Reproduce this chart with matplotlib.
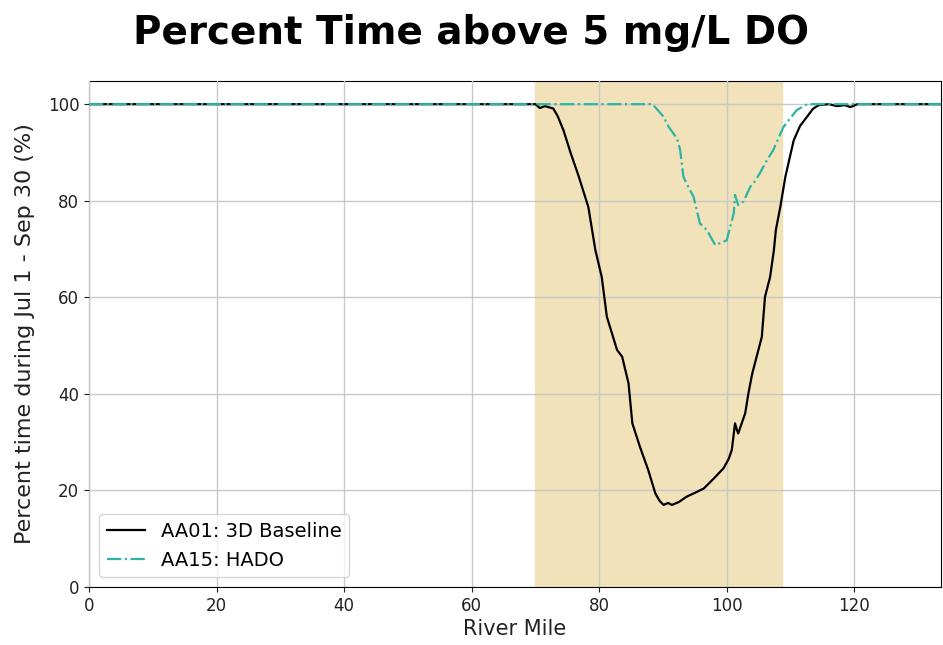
import matplotlib
matplotlib.use("Agg")
import matplotlib.pyplot as plt

# River mile stations and percent time above 5 mg/L DO (Jul 1 - Sep 30)
baseline_mile = [0, 70, 70.7, 71.5, 72.8, 73.5, 74.4, 75.5, 76.8, 78.3, 79.4,
                 80.4, 81.2, 82.8, 83.6, 84.6, 85.2, 86.4, 87.7, 88.8, 89.5,
                 90.1, 90.8, 91.4, 92.5, 93.7, 95.0, 96.4, 98.0, 99.5, 100.3,
                 100.8, 101.3, 101.6, 101.8, 102.9, 103.4, 104.0, 105.5, 106.0,
                 106.8, 107.4, 107.7, 108.4, 109.2, 110.5, 111.5, 112.6, 113.5,
                 114.4, 116.0, 117.3, 118.5, 119.4, 120.5, 133.6]
baseline_pct = [100, 100, 99.2, 99.6, 99.1, 97.5, 94.6, 90.0, 85.0, 78.7, 69.8,
                64.2, 56.0, 49.1, 47.7, 42.2, 33.9, 29.0, 24.2, 19.4, 17.8,
                17.0, 17.4, 17.0, 17.6, 18.7, 19.5, 20.4, 22.5, 24.6, 26.5,
                28.4, 33.9, 32.5, 31.8, 36.0, 40.1, 44.2, 51.8, 60.1,
                64.2, 69.8, 73.9, 78.7, 85.0, 92.5, 95.5, 97.4, 99.0,
                99.8, 100, 99.6, 99.8, 99.4, 100, 100]

hado_mile = [0, 88.0, 88.5, 90.1, 90.9, 92.2, 92.7, 93.2, 93.7, 94.8, 95.8,
             96.9, 98.2, 100.0, 101.1, 101.3, 101.8, 102.6, 103.7, 104.2,
             105.2, 106.3, 107.3, 108.9, 111.0, 112.6, 133.6]
hado_pct = [100, 100, 99.8, 97.4, 95.3, 92.9, 90.5, 85.0, 83.6, 80.8, 75.3,
            73.9, 70.8, 71.8, 77.4, 81.2, 79.1, 79.8, 82.9, 83.6,
            85.7, 88.4, 90.5, 95.3, 98.8, 100, 100]

# Highlighted reach
reach_start, reach_end = 70.0, 108.6

fig = plt.figure(figsize=(9.43, 6.45), dpi=100)
ax = fig.add_axes([89 / 943, 1 - 587 / 645, (941 - 89) / 943, (587 - 81) / 645])

ax.axvspan(reach_start, reach_end, color="#F2E2B9", zorder=0)
ax.grid(True, color="#c8c8c8", linewidth=1.0, zorder=0.5)
ax.set_axisbelow(False)

ax.plot(baseline_mile, baseline_pct, color="black", linewidth=1.6,
        label="AA01: 3D Baseline", zorder=3)
ax.plot(hado_mile, hado_pct, color="#2ab5a8", linewidth=1.6, linestyle="-.",
        label="AA15: HADO", zorder=4)

ax.set_xlim(0, 133.6)
ax.set_ylim(0, 104.8)
ax.set_xticks([0, 20, 40, 60, 80, 100, 120])
ax.set_yticks([0, 20, 40, 60, 80, 100])
ax.tick_params(labelsize=12, colors="#222222")

ax.set_xlabel("River Mile", fontsize=15, color="#222222", labelpad=3)
ax.set_ylabel("Percent time during Jul 1 - Sep 30 (%)", fontsize=16,
              color="#222222", labelpad=9)

ax.legend(loc="lower left", fontsize=14, framealpha=0.8)

fig.suptitle("Percent Time above 5 mg/L DO", fontsize=28, fontweight="bold",
             y=0.979)

fig.savefig("out.png", dpi=100)
